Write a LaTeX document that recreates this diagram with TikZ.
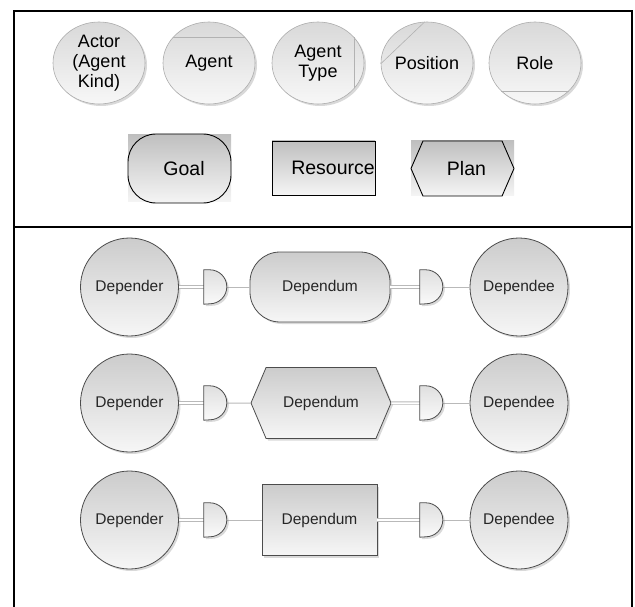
\documentclass[tikz,border=0pt]{standalone}
\usepackage{fontspec}
\setmainfont{Liberation Sans}
\usetikzlibrary{shapes.geometric,shapes.symbols,shadows}

\begin{document}
\begin{tikzpicture}[x=1pt, y=1pt,
    every node/.style={font=\fontsize{18}{20}\selectfont, align=center},
    actor/.style={ellipse, draw=gray!65, line width=0.6pt, top color=gray!30, bottom color=gray!6,
        minimum width=92pt, minimum height=82pt, inner sep=0pt,
        drop shadow={shadow xshift=2pt, shadow yshift=-2pt, opacity=0.3}},
    chord/.style={draw=gray!60, line width=0.6pt},
    element/.style={draw=black, line width=0.9pt, top color=gray!50, bottom color=gray!8,
        inner sep=0pt, font=\fontsize{19.5}{22}\selectfont},
    backdrop/.style={top color=gray!50, bottom color=gray!8},
    party/.style={circle, draw=black!70, line width=0.8pt, top color=gray!40, bottom color=gray!7,
        minimum size=98pt, inner sep=0pt, text=black!85, font=\fontsize{15.5}{17}\selectfont,
        drop shadow={shadow xshift=2pt, shadow yshift=-2pt, opacity=0.3}},
    dependum/.style={party, rectangle, minimum height=70pt},
    dbox/.style={rectangle, minimum width=23pt, minimum height=34pt, inner sep=0pt},
    dgate/.style={draw=black!70, line width=0.8pt, top color=gray!25, bottom color=gray!4,
        drop shadow={shadow xshift=2pt, shadow yshift=-2pt, opacity=0.3}},
    dbl/.style={draw=gray!55, line width=0.8pt, double=white, double distance=1.5pt},
    sgl/.style={draw=gray!55, line width=1pt}]
    \useasboundingbox (0,0) rectangle (635,-607);

    % Frame
    \draw[line width=2pt] (14,-607) -- (14,-11) -- (632,-11) -- (632,-607);
    \draw[line width=2pt] (14,-227) -- (632,-227);

    % Actors
    \node[actor] (actor) at (99,-63) {Actor\\(Agent\\Kind)};
    \node[actor] (agent) at (209,-63) {Agent};
    \node[actor] (atype) at (318,-63) {Agent\\Type};
    \node[actor] (position) at (427,-63) {Position};
    \node[actor] (role) at (535,-63) {Role};
    \draw[chord] (agent.145) -- (agent.35);
    \draw[chord] (atype.35) -- (atype.-35);
    \draw[chord] (position.93) -- (position.181);
    \draw[chord] (role.-40) -- (role.-140);

    % Goal, resource, plan
    \shade[backdrop] (128,-135) rectangle (231,-202);
    \node[element, rectangle, rounded corners=28pt, minimum width=103pt, minimum height=69pt] (goal) at (179.5,-168.5) {\hspace*{9pt}Goal};
    \node[element, rectangle, minimum width=103pt, minimum height=54pt,
        label={[xshift=9.5pt, font=\fontsize{19.5}{22}\selectfont]center:Resource}] (resource) at (323.5,-168) {};
    \shade[backdrop] (411,-141) rectangle (514,-196);
    \node[element, signal, signal to=west and east, signal pointer angle=133,
        minimum width=103pt, minimum height=55pt] (plan) at (462.5,-168.5) {\hspace*{8pt}Plan};

    % Dependencies
    \node[dependum, rounded corners=30pt, minimum width=140pt] (dum1) at (320,-287) {Dependum};
    \node[dependum, signal, signal to=west and east, signal pointer angle=134,
        minimum width=140pt, minimum height=71pt] (dum2) at (321,-403) {Dependum};
    \node[dependum, minimum width=115pt, minimum height=71pt] (dum3) at (319.5,-520) {Dependum};
    \foreach \y [count=\i] in {-287,-403,-520} {
        \node[party] (der\i) at (129.5,\y) {Depender};
        \node[party] (dee\i) at (519,\y) {Dependee};
        \node[dbox] (dl\i) at (215.5,\y) {};
        \node[dbox] (dr\i) at (431.5,\y) {};
        \draw[dbl] (der\i.east) -- (dl\i.west);
        \draw[sgl] (dl\i.east) -- (dum\i);
        \draw[dbl] (dum\i) -- (dr\i.west);
        \draw[sgl] (dr\i.east) -- (dee\i.west);
        \foreach \d in {dl,dr}
            \draw[dgate] (\d\i.north west) -- ++(6,0) arc[start angle=90, end angle=-90, radius=17] -- (\d\i.south west) -- cycle;
    }
\end{tikzpicture}
\end{document}
